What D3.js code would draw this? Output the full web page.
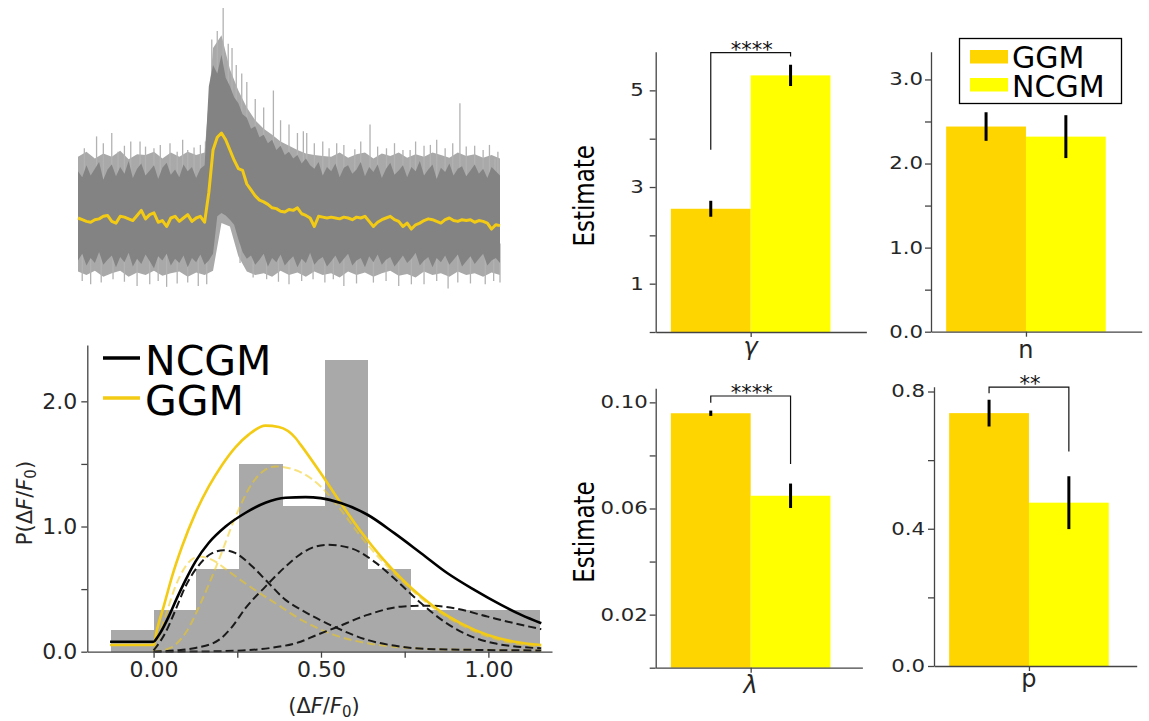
<!DOCTYPE html>
<html>
<head>
<meta charset="utf-8">
<script src="https://cdn.jsdelivr.net/npm/d3@7"></script>
<style>
  body { margin: 0; background: #fff; }
  svg { display: block; font-family: "DejaVu Sans", sans-serif; }
</style>
</head>
<body>
<svg id="fig" width="1149" height="721"></svg>
<script>
// ---- trace panel (dF/F over time, sample index 0..100) ----
const meanTrace = [0.00,-0.02,-0.04,-0.05,-0.02,-0.01,0.02,0.03,-0.04,-0.06,
  0.02,0.01,-0.01,-0.03,0.03,0.09,-0.01,0.04,0.06,-0.05,
  -0.03,-0.10,0.00,0.02,-0.04,0.00,0.04,-0.04,0.00,0.02,
  -0.05,0.30,0.80,0.95,1.00,0.92,0.80,0.68,0.58,0.56,
  0.40,0.33,0.26,0.21,0.19,0.16,0.12,0.11,0.08,0.07,
  0.10,0.09,0.12,0.05,0.03,0.00,-0.10,0.02,0.01,0.00,
  0.01,0.00,-0.01,0.01,0.00,-0.02,0.01,0.00,0.02,-0.04,
  -0.10,-0.05,-0.02,0.00,0.02,-0.02,-0.04,-0.10,-0.06,-0.13,
  -0.08,-0.06,-0.03,-0.01,-0.02,-0.04,-0.06,-0.02,0.00,-0.03,
  -0.04,-0.02,-0.03,-0.02,-0.05,-0.03,-0.04,-0.06,-0.13,-0.08,-0.09];

// dense part of the single trials, every sample
const bandHiDark = [0.55,0.48,0.62,0.50,0.58,0.66,0.45,0.57,0.63,0.49,0.60,0.52,0.67,0.47,0.58,0.64,0.50,0.56,0.62,0.46,
  0.59,0.65,0.51,0.57,0.48,0.63,0.55,0.60,0.47,0.58,0.62,
  1.55,1.80,1.70,1.92,1.65,1.55,1.42,1.35,1.22,1.18,1.05,1.08,0.95,0.98,0.88,0.92,0.80,0.85,0.74,0.78,0.70,0.74,0.64,0.70,0.62,
  0.58,0.66,0.50,0.60,0.55,0.64,0.48,0.59,0.62,0.52,0.57,0.66,0.49,0.60,0.54,0.63,0.47,0.58,0.65,0.51,
  0.56,0.62,0.48,0.60,0.55,0.67,0.50,0.57,0.63,0.46,0.59,0.54,0.64,0.50,0.58,0.61,0.49,0.56,0.63,0.52,0.58,0.47,0.60,0.55,0.50];
const bandLoDark = [-0.50,-0.42,-0.56,-0.47,-0.53,-0.40,-0.55,-0.49,-0.44,-0.58,-0.46,-0.52,-0.41,-0.57,-0.48,-0.54,-0.43,-0.51,-0.59,-0.45,
  -0.50,-0.42,-0.56,-0.48,-0.53,-0.44,-0.58,-0.47,-0.52,-0.43,-0.55,
  -0.50,-0.42,0.02,0.06,0.03,-0.02,-0.08,-0.25,-0.40,-0.48,
  -0.44,-0.55,-0.49,-0.42,-0.57,-0.47,-0.52,-0.43,-0.56,-0.50,-0.45,-0.58,-0.48,-0.53,-0.41,-0.55,-0.49,-0.46,-0.57,-0.51,
  -0.44,-0.54,-0.48,-0.42,-0.56,-0.50,-0.47,-0.58,-0.45,-0.52,-0.43,-0.55,-0.49,-0.46,-0.57,-0.51,-0.44,-0.53,-0.48,-0.41,
  -0.56,-0.50,-0.46,-0.58,-0.47,-0.52,-0.44,-0.55,-0.49,-0.43,-0.57,-0.51,-0.45,-0.54,-0.48,-0.42,-0.56,-0.50,-0.47,-0.53];
// lighter fringe, every 2 samples
const bandHiLight = [0.72,0.78,0.70,0.76,0.72,0.79,0.69,0.75,0.74,0.78,0.70,0.77,0.72,0.78,0.74,0.77,
  2.00,2.15,1.75,1.50,1.30,1.15,1.05,0.98,0.90,0.85,0.80,0.76,0.74,0.73,
  0.72,0.77,0.71,0.75,0.77,0.70,0.76,0.73,0.77,0.71,0.75,0.72,0.77,0.74,0.71,0.77,0.73,0.75,0.71,0.74,0.70];
const bandLoLight = [-0.63,-0.67,-0.62,-0.69,-0.65,-0.62,-0.69,-0.64,-0.67,-0.62,-0.68,-0.65,-0.63,-0.69,-0.64,-0.67,
  -0.62,-0.06,-0.10,-0.45,-0.63,-0.67,-0.65,-0.69,-0.62,-0.67,-0.64,-0.69,-0.63,-0.67,
  -0.65,-0.70,-0.63,-0.67,-0.64,-0.69,-0.65,-0.62,-0.68,-0.66,-0.70,-0.63,-0.67,-0.65,-0.69,-0.63,-0.67,-0.65,-0.69,-0.64,-0.67];
const spikesUp = [[1.5,0.82],[4.4,0.96],[6,0.88],[8,1.0],[9.5,0.78],[11,0.85],[12.5,0.9],[14.7,0.9],[16,0.84],[18,0.82],
  [19.5,0.86],[21.8,0.88],[23.5,0.78],[24.8,0.92],[26,0.8],[27.5,0.83],[29,0.86],[30.2,0.9],
  [31.7,2.1],[33,2.2],[34.4,2.47],[35.6,2.05],[36.5,2.0],[37.5,1.8],[38.8,1.7],[40,1.6],[42,1.4],[44,1.3],
  [46.3,1.5],[48,1.15],[50,1.1],[52,1.0],[53.4,1.02],[54.2,1.0],[56,0.88],[58,0.9],[59.5,0.82],
  [61.3,0.88],[63,0.86],[65.6,0.81],[67,0.9],[69.2,1.1],[71,0.84],[73.1,0.82],[75,0.88],[77,0.8],[78.7,0.8],
  [80,0.9],[82,0.85],[83.5,0.86],[85,0.92],[87,0.82],[88.8,0.88],[90.5,1.35],[92,0.84],[94,0.85],[96,0.8],
  [97.5,0.86],[98.8,0.7],[99.5,0.78]];
const spikesDown = [[1,-0.74],[3,-0.78],[5.5,-0.76],[8.3,-0.72],[11,-0.75],[14,-0.8],[17,-0.78],[19,-0.74],[21,-0.81],
  [23.5,-0.77],[26,-0.76],[28.5,-0.8],[30.5,-0.78],[38.4,-0.53],[41.5,-0.7],[44.7,-0.72],[47.5,-0.75],[50,-0.78],
  [53,-0.74],[55.7,-0.72],[58.5,-0.76],[60.5,-0.72],[63,-0.8],[66,-0.77],[70,-0.76],[73,-0.74],[76,-0.8],[79,-0.78],
  [82,-0.78],[85,-0.74],[87.7,-0.83],[90,-0.76],[93,-0.77],[96.5,-0.78],[98.5,-0.74],[100,-0.76]];

// ---- amplitude histogram + fits ----
const binEdges = [-0.128,0.0,0.128,0.256,0.384,0.512,0.640,0.768,0.896,1.024,1.152];
const binDensity = [0.17,0.33,0.66,1.50,1.16,2.33,0.66,0.33,0.33,0.33];

const ncgmFit = [[-0.13,0.08],[0.0,0.08],[0.01,0.11],[0.02,0.15],[0.045,0.28],[0.07,0.43],[0.095,0.57],[0.125,0.72],
  [0.165,0.87],[0.215,1.0],[0.275,1.11],[0.334,1.19],[0.394,1.23],[0.454,1.235],[0.499,1.227],[0.559,1.187],
  [0.639,1.094],[0.719,0.947],[0.799,0.787],[0.878,0.627],[0.958,0.494],[1.038,0.374],[1.098,0.294],[1.158,0.227]];
const ncgmComp1 = [[0.0,0.01],[0.035,0.15],[0.065,0.33],[0.095,0.52],[0.135,0.69],[0.175,0.787],[0.21,0.81],
  [0.245,0.787],[0.295,0.68],[0.344,0.547],[0.394,0.414],[0.444,0.33],[0.539,0.2],[0.639,0.094],[0.739,0.04],
  [0.839,0.02],[1.158,0.01]];
const ncgmComp2 = [[0.0,0.0],[0.065,0.01],[0.125,0.03],[0.195,0.094],[0.235,0.2],[0.275,0.35],[0.334,0.52],
  [0.394,0.68],[0.439,0.78],[0.484,0.84],[0.519,0.854],[0.589,0.827],[0.659,0.72],[0.729,0.56],[0.799,0.387],
  [0.868,0.24],[0.938,0.134],[1.018,0.067],[1.158,0.027]];
const ncgmComp3 = [[0.0,0.0],[0.15,0.002],[0.265,0.01],[0.35,0.03],[0.439,0.08],[0.484,0.13],[0.539,0.187],
  [0.639,0.294],[0.739,0.36],[0.818,0.368],[0.898,0.347],[0.998,0.28],[1.078,0.227],[1.158,0.18]];
const ggmFit = [[-0.13,0.054],[0.0,0.054],[0.01,0.174],[0.03,0.36],[0.055,0.60],[0.085,0.84],[0.125,1.107],
  [0.165,1.32],[0.205,1.494],[0.245,1.635],[0.284,1.734],[0.334,1.806],[0.374,1.795],[0.424,1.707],[0.439,1.654],
  [0.499,1.427],[0.559,1.187],[0.619,0.96],[0.679,0.76],[0.739,0.587],[0.799,0.44],[0.858,0.32],[0.918,0.227],
  [0.998,0.134],[1.078,0.08],[1.158,0.054]];
const ggmComp1 = [[0.0,0.0],[0.05,0.03],[0.095,0.147],[0.145,0.414],[0.195,0.734],[0.245,1.08],[0.295,1.347],
  [0.334,1.454],[0.364,1.48],[0.434,1.44],[0.499,1.32],[0.559,1.134],[0.619,0.92],[0.679,0.734],[0.739,0.574],
  [0.799,0.427],[0.858,0.307],[0.918,0.214],[0.998,0.12],[1.078,0.067],[1.158,0.04]];
const ggmComp2 = [[0.0,0.0],[0.035,0.28],[0.065,0.52],[0.095,0.68],[0.135,0.76],[0.175,0.734],[0.225,0.64],
  [0.295,0.507],[0.364,0.387],[0.444,0.25],[0.539,0.134],[0.639,0.067],[0.739,0.035],[0.839,0.02],[1.158,0.01]];

// ---- parameter estimates (mean, error) ----
const models = ["GGM", "NCGM"];
const gammaMean = [2.55, 5.31], gammaErr = [0.165, 0.22];
const nMean = [2.44, 2.32], nErr = [0.17, 0.255];
const lambdaMean = [0.0959, 0.0648], lambdaErr = [0.001, 0.0046];
const pMean = [0.737, 0.476], pErr = [0.039, 0.077];

const GOLD = "#ffd500", YEL = "#ffff00", LINEY = "#f3cb14";
const svg = d3.select("#fig");

// ================= trace =================
{
  const x = d3.scaleLinear().domain([0, 100]).range([78, 500]);
  const y = d3.scaleLinear().domain([-0.8, 2.5]).range([286, 5.5]);
  const tLight = d3.range(0, 101, 2);
  const tFine = d3.range(0, 101, 1);
  const g = svg.append("g");

  g.append("path")
    .datum(tLight.map((t, i) => [t, bandHiLight[i], bandLoLight[i]]))
    .attr("fill", "#a9a9a9")
    .attr("d", d3.area().x(d => x(d[0])).y0(d => y(d[2])).y1(d => y(d[1])));

  g.selectAll("line.spk").data(spikesUp.concat(spikesDown)).join("line")
    .attr("x1", d => x(d[0])).attr("x2", d => x(d[0]))
    .attr("y1", d => d[1] > 0 ? y(0.3) : y(-0.3)).attr("y2", d => y(d[1]))
    .attr("stroke", "#b2b2b2").attr("stroke-width", 1.3);

  g.append("path")
    .datum(tFine.map((t, i) => [t, bandHiDark[i], bandLoDark[i]]))
    .attr("fill", "#838383")
    .attr("d", d3.area().x(d => x(d[0])).y0(d => y(d[2])).y1(d => y(d[1])));

  g.append("path")
    .datum(tFine.map((t, i) => [t, meanTrace[i]]))
    .attr("fill", "none").attr("stroke", LINEY).attr("stroke-width", 3)
    .attr("stroke-linejoin", "round")
    .attr("d", d3.line().x(d => x(d[0])).y(d => y(d[1])));
}

// ================= histogram =================
{
  const x = d3.scaleLinear().domain([-0.198, 1.19]).range([87.3, 552]);
  const y = d3.scaleLinear().domain([0, 2.45]).range([651.7, 345]);
  const g = svg.append("g");

  g.selectAll("rect").data(binDensity).join("rect")
    .attr("x", (d, i) => x(binEdges[i]))
    .attr("width", (d, i) => x(binEdges[i + 1]) - x(binEdges[i]) + 0.6)
    .attr("y", d => y(d))
    .attr("height", d => y(0) - y(d))
    .attr("fill", "#a9a9a9")
    .attr("shape-rendering", "crispEdges");

  const line = d3.line().x(d => x(d[0])).y(d => y(d[1])).curve(d3.curveMonotoneX);
  const curves = [
    [ggmComp2, LINEY, 2, "8,4", 0.55],
    [ggmComp1, LINEY, 2, "8,4", 0.55],
    [ncgmComp1, "#1a1a1a", 2, "8,4", 1],
    [ncgmComp2, "#1a1a1a", 2, "8,4", 1],
    [ncgmComp3, "#1a1a1a", 2, "8,4", 1],
    [ggmFit, LINEY, 2.6, null, 1],
    [ncgmFit, "#000", 2.6, null, 1]
  ];
  curves.forEach(c => {
    g.append("path").datum(c[0])
      .attr("fill", "none").attr("stroke", c[1]).attr("stroke-width", c[2])
      .attr("stroke-dasharray", c[3]).attr("opacity", c[4])
      .attr("d", line);
  });

  const xa = g.append("g").attr("transform", "translate(0,651.7)")
    .call(d3.axisBottom(x).tickValues([0, 0.25, 0.5, 0.75, 1.0]).tickSize(6).tickPadding(4).tickSizeOuter(0)
      .tickFormat((d, i) => ["0.00", "", "0.50", "", "1.00"][i]));
  const ya = g.append("g").attr("transform", "translate(87.3,0)")
    .call(d3.axisLeft(y).tickValues([0, 0.5, 1, 1.5, 2]).tickSize(6).tickPadding(4).tickSizeOuter(0)
      .tickFormat((d, i) => ["0.0", "", "1.0", "", "2.0"][i]));
  [xa, ya].forEach(a => {
    a.select(".domain").attr("stroke", "#444").attr("stroke-width", 1.3);
    a.selectAll(".tick line").attr("stroke", "#444").attr("stroke-width", 1.3);
    a.selectAll(".tick text").attr("font-size", 22).attr("fill", "#262626").attr("font-family", "DejaVu Sans");
  });

  // legend
  const leg = [["NCGM", "#000", 358, 375], ["GGM", LINEY, 398, 415]];
  leg.forEach(l => {
    g.append("line").attr("x1", 103).attr("x2", 140).attr("y1", l[2]).attr("y2", l[2])
      .attr("stroke", l[1]).attr("stroke-width", 3.5);
    g.append("text").attr("x", 145).attr("y", l[3]).attr("font-size", 41).attr("fill", "#000").text(l[0]);
  });

  const yl = g.append("text").attr("transform", "translate(32,503) rotate(-90)")
    .attr("text-anchor", "middle").attr("font-size", 21).attr("fill", "#262626");
  yl.append("tspan").text("P(Δ");
  yl.append("tspan").attr("font-style", "italic").text("F");
  yl.append("tspan").text("/");
  yl.append("tspan").attr("font-style", "italic").text("F");
  yl.append("tspan").attr("font-size", 15).attr("dy", 4).text("0");
  yl.append("tspan").attr("dy", -4).text(")");

  const xl = g.append("text").attr("x", 324).attr("y", 713)
    .attr("text-anchor", "middle").attr("font-size", 21).attr("fill", "#262626");
  xl.append("tspan").text("(Δ");
  xl.append("tspan").attr("font-style", "italic").text("F");
  xl.append("tspan").text("/");
  xl.append("tspan").attr("font-style", "italic").text("F");
  xl.append("tspan").attr("font-size", 15).attr("dy", 4).text("0");
  xl.append("tspan").attr("dy", -4).text(")");
}

// ================= bar panels =================
function barPanel(cfg) {
  const g = svg.append("g");
  const x = d3.scaleLinear().domain([-0.476, cfg.xMax]).range([cfg.left, cfg.left + (cfg.xMax + 0.476) * 199.5]);
  const y = d3.scaleLinear().domain([0, cfg.yMax]).range([cfg.bottom, cfg.top]);
  const pos = [-0.2, 0.2];

  g.selectAll("rect").data(cfg.mean).join("rect")
    .attr("x", (d, i) => x(pos[i] - 0.2))
    .attr("width", x(0.4) - x(0))
    .attr("y", d => y(d))
    .attr("height", d => y(0) - y(d))
    .attr("fill", (d, i) => i == 0 ? GOLD : YEL);

  g.selectAll("line.err").data(cfg.mean).join("line")
    .attr("x1", (d, i) => x(pos[i])).attr("x2", (d, i) => x(pos[i]))
    .attr("y1", (d, i) => y(d - cfg.err[i])).attr("y2", (d, i) => y(d + cfg.err[i]))
    .attr("stroke", "#000").attr("stroke-width", 3);

  const ya = g.append("g").attr("transform", `translate(${cfg.left},0)`)
    .call(d3.axisLeft(y).tickValues(cfg.ticks).tickSize(6).tickSizeOuter(0)
      .tickFormat((d, i) => cfg.labels[i]));
  const xa = g.append("g").attr("transform", `translate(0,${cfg.bottom})`)
    .call(d3.axisBottom(x).tickValues([0]).tickSize(5).tickSizeOuter(0).tickFormat(""));
  [xa, ya].forEach(a => {
    a.select(".domain").attr("stroke", "#444").attr("stroke-width", 1.3);
    a.selectAll(".tick line").attr("stroke", "#444").attr("stroke-width", 1.3);
  });
  ya.selectAll(".tick text")
    .attr("font-size", 17).attr("fill", "#262626").attr("font-family", "DejaVu Sans")
    .attr("x", -cfg.pad / 1.25).attr("transform", "scale(1.25,1)");

  g.append("text").attr("x", x(0)).attr("y", cfg.bottom + cfg.catDy)
    .attr("text-anchor", "middle").attr("font-size", 24).attr("fill", "#262626")
    .attr("font-style", cfg.italic ? "italic" : "normal").text(cfg.cat);

  if (cfg.ylabel) {
    g.append("text").attr("transform", `translate(${cfg.left - 62},${(cfg.top + cfg.bottom) / 2 + 4}) rotate(-90) scale(1,1.25)`)
      .attr("text-anchor", "middle").attr("font-size", 23).attr("fill", "#000").text("Estimate");
  }

  if (cfg.bracket) {
    const b = cfg.bracket;
    g.append("path")
      .attr("d", `M${x(pos[0])},${y(b[1])}V${y(b[0])}H${x(pos[1])}V${y(b[2])}`)
      .attr("fill", "none").attr("stroke", "#111").attr("stroke-width", 1.2);
    g.append("text").attr("x", x(0) + 1).attr("y", y(b[0]) + 4)
      .attr("text-anchor", "middle").attr("font-size", 21).attr("fill", "#111").text(cfg.stars);
  }
  return g;
}

barPanel({ mean: gammaMean, err: gammaErr, left: 655.7, xMax: 0.58, top: 51.7, bottom: 332, yMax: 5.8,
  ticks: [0, 1, 2, 3, 4, 5], labels: ["", "1", "", "3", "", "5"], pad: 12,
  cat: "γ", italic: true, catDy: 23, ylabel: true, bracket: [5.78, 3.77, 5.70], stars: "****" });

const nPanel = barPanel({ mean: nMean, err: nErr, left: 931, xMax: 0.58, top: 51.7, bottom: 331.7, yMax: 3.33,
  ticks: [0, 0.5, 1, 1.5, 2, 2.5, 3], labels: ["0.0", "", "1.0", "", "2.0", "", "3.0"], pad: 8,
  cat: "n", italic: false, catDy: 26, ylabel: false });

barPanel({ mean: lambdaMean, err: lambdaErr, left: 655.7, xMax: 0.56, top: 388.3, bottom: 667.7, yMax: 0.1053,
  ticks: [0, 0.02, 0.04, 0.06, 0.08, 0.10], labels: ["", "0.02", "", "0.06", "", "0.10"], pad: 8,
  cat: "λ", italic: true, catDy: 25, ylabel: true, bracket: [0.1024, 0.0999, 0.0768], stars: "****" });

barPanel({ mean: pMean, err: pErr, left: 934, xMax: 0.54, top: 386.7, bottom: 666, yMax: 0.814,
  ticks: [0, 0.2, 0.4, 0.6, 0.8], labels: ["0.0", "", "0.4", "", "0.8"], pad: 9,
  cat: "p", italic: false, catDy: 21, ylabel: false, bracket: [0.8125, 0.795, 0.625], stars: "**" });

// legend for the bar panels
{
  const lg = nPanel.append("g");
  lg.append("rect").attr("x", 959.5).attr("y", 38.5).attr("width", 162).attr("height", 65)
    .attr("fill", "#fff").attr("stroke", "#000").attr("stroke-width", 1.3);
  models.forEach((m, i) => {
    lg.append("rect").attr("x", 970).attr("y", 50 + i * 28).attr("width", 38).attr("height", 13.5)
      .attr("fill", i == 0 ? GOLD : YEL);
    lg.append("text").attr("x", 1012).attr("y", 67.5 + i * 29).attr("font-size", 30).attr("fill", "#000").text(m);
  });
}
</script>
</body>
</html>
